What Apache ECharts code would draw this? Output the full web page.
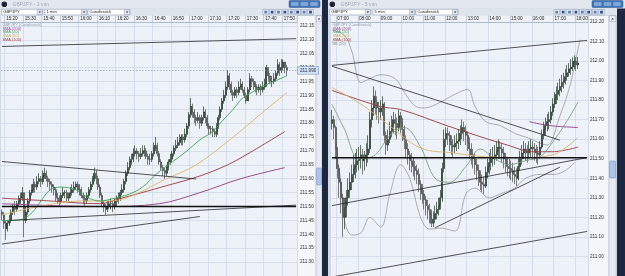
<!DOCTYPE html>
<html><head><meta charset="utf-8">
<script src="https://cdn.jsdelivr.net/npm/echarts@6/dist/echarts.min.js"></script>
<style>html,body{margin:0;padding:0;background:#d5dce7;}#c{width:625px;height:276px;}</style>
</head><body><div id="c"></div>
<script>
// ---------- tick labels ----------
const leftTickLabels = ['15:20','15:30','15:40','15:50','16:00','16:10','16:20','16:30','16:40','16:50','17:00','17:10','17:20','17:30','17:40','17:50'];
const rightTickLabels = ['07:00','08:00','09:00','10:00','11:00','12:00','13:00','14:00','15:00','16:00','17:00','18:00'];
const leftStart = '15:18', leftStep = 1, leftSlots = 160;
const rightStart = '06:45', rightStep = 5, rightSlots = 142;

// ---------- left chart (1 min) ----------
const leftFirstOpen = 211.48;
const leftClose = [
211.47,211.44,211.42,211.44,211.45,211.48,211.50,211.49,211.51,211.52,
211.53,211.55,211.45,211.48,211.52,211.55,211.56,211.58,211.57,211.59,
211.60,211.59,211.61,211.62,211.60,211.59,211.58,211.57,211.56,211.54,
211.53,211.52,211.54,211.55,211.55,211.53,211.54,211.55,211.56,211.57,
211.58,211.56,211.56,211.54,211.53,211.52,211.54,211.56,211.58,211.60,
211.62,211.60,211.57,211.54,211.51,211.50,211.49,211.50,211.51,211.51,
211.50,211.52,211.52,211.53,211.55,211.56,211.59,211.62,211.64,211.66,
211.67,211.69,211.70,211.69,211.68,211.69,211.70,211.70,211.68,211.67,
211.67,211.69,211.71,211.72,211.69,211.66,211.64,211.63,211.62,211.64,
211.66,211.67,211.69,211.71,211.72,211.73,211.74,211.75,211.74,211.76,
211.79,211.83,211.86,211.84,211.82,211.81,211.82,211.80,211.82,211.84,
211.82,211.79,211.78,211.78,211.77,211.76,211.79,211.82,211.85,211.88,
211.90,211.93,211.97,211.94,211.91,211.90,211.92,211.91,211.93,211.94,
211.92,211.90,211.88,211.92,211.96,211.95,211.94,211.93,211.92,211.93,
211.92,211.93,211.94,212.00,211.97,211.95,211.95,211.96,211.98,212.01,
211.99,212.00,212.02,212.00,211.99];
const leftHigh = [
211.49,211.48,211.45,211.45,211.47,211.49,211.51,211.52,211.52,211.54,
211.55,211.57,211.55,211.50,211.53,211.56,211.58,211.60,211.59,211.61,
211.62,211.61,211.63,211.64,211.63,211.61,211.60,211.59,211.58,211.57,
211.55,211.54,211.55,211.57,211.56,211.56,211.55,211.57,211.58,211.59,
211.59,211.59,211.58,211.57,211.55,211.54,211.55,211.57,211.59,211.61,
211.64,211.63,211.61,211.58,211.55,211.52,211.51,211.52,211.52,211.53,
211.52,211.53,211.54,211.55,211.56,211.58,211.60,211.63,211.66,211.68,
211.69,211.71,211.72,211.71,211.70,211.71,211.72,211.72,211.71,211.69,
211.69,211.70,211.73,211.75,211.73,211.70,211.67,211.65,211.64,211.65,
211.67,211.69,211.70,211.72,211.74,211.75,211.76,211.76,211.76,211.78,
211.80,211.84,211.89,211.87,211.85,211.83,211.84,211.83,211.83,211.86,
211.85,211.83,211.80,211.79,211.79,211.78,211.80,211.83,211.86,211.89,
211.92,211.95,211.99,211.98,211.95,211.92,211.93,211.93,211.95,211.96,
211.95,211.93,211.91,211.93,211.98,211.97,211.96,211.95,211.94,211.94,
211.94,211.95,211.96,212.01,212.00,211.98,211.97,211.98,211.99,212.03,
212.02,212.03,212.03,212.02,212.01];
const leftLow = [
211.45,211.42,211.38,211.41,211.43,211.44,211.47,211.47,211.48,211.50,
211.51,211.52,211.39,211.44,211.47,211.51,211.54,211.55,211.55,211.56,
211.58,211.57,211.58,211.60,211.59,211.57,211.56,211.55,211.54,211.52,
211.51,211.50,211.51,211.53,211.53,211.52,211.52,211.53,211.54,211.55,
211.56,211.55,211.54,211.53,211.51,211.50,211.51,211.53,211.55,211.57,
211.59,211.58,211.56,211.53,211.50,211.48,211.47,211.48,211.49,211.49,
211.48,211.49,211.50,211.51,211.52,211.54,211.55,211.58,211.61,211.63,
211.65,211.66,211.68,211.67,211.66,211.67,211.68,211.68,211.67,211.65,
211.65,211.66,211.68,211.70,211.68,211.65,211.63,211.61,211.60,211.61,
211.63,211.65,211.66,211.68,211.70,211.71,211.72,211.72,211.72,211.73,
211.75,211.78,211.82,211.82,211.80,211.79,211.80,211.78,211.79,211.81,
211.80,211.78,211.76,211.76,211.75,211.75,211.75,211.78,211.81,211.84,
211.87,211.89,211.92,211.92,211.90,211.88,211.89,211.89,211.90,211.92,
211.91,211.89,211.87,211.88,211.91,211.93,211.92,211.91,211.90,211.91,
211.90,211.91,211.92,211.93,211.95,211.94,211.93,211.94,211.95,211.97,
211.97,211.98,211.99,211.98,211.97];
const leftSma20 = [[0,211.45],[8,211.45],[15,211.47],[20,211.51],[26,211.56],[32,211.57],[40,211.56],[47,211.53],[53,211.52],[61,211.53],[69,211.545],[76,211.57],[84,211.62],[92,211.66],[100,211.70],[107,211.74],[114,211.77],[118,211.80],[125,211.85],[130,211.89],[135,211.91],[140,211.93],[147,211.95],[154,211.97]];
const leftSma50 = [[0,211.47],[20,211.50],[42,211.52],[58,211.52],[69,211.535],[89,211.60],[105,211.65],[125,211.75],[143,211.85],[154,211.91]];
const leftSma100 = [[0,211.53],[26,211.52],[53,211.51],[62,211.525],[89,211.575],[107,211.61],[122,211.65],[133,211.69],[153,211.77]];
const leftSma200 = [[0,211.51],[53,211.50],[85,211.51],[107,211.55],[129,211.60],[153,211.64]];
const leftTrendLines = [
  [[0,212.076],[159,212.104]],
  [[0,211.662],[105,211.599]],
  [[4,211.45],[159,211.505]],
  [[0,211.365],[107,211.464]]
];
const leftLevel = 211.50;
const leftLast = 211.99;

// ---------- right chart (5 min) ----------
const rightFirstOpen = 211.68;
const rightClose = [
211.70,211.66,211.55,211.45,211.38,211.30,211.20,211.25,211.30,211.34,
211.38,211.42,211.45,211.47,211.49,211.50,211.52,211.49,211.50,211.52,
211.55,211.70,211.76,211.82,211.79,211.76,211.74,211.76,211.78,211.62,
211.57,211.60,211.64,211.67,211.70,211.68,211.66,211.72,211.69,211.65,
211.60,211.55,211.52,211.49,211.48,211.46,211.44,211.42,211.37,211.34,
211.32,211.29,211.26,211.24,211.22,211.17,211.19,211.22,211.24,211.26,
211.30,211.45,211.60,211.63,211.62,211.59,211.57,211.56,211.58,211.59,
211.60,211.63,211.66,211.64,211.62,211.58,211.55,211.52,211.50,211.47,
211.44,211.41,211.38,211.37,211.36,211.43,211.46,211.48,211.50,211.51,
211.52,211.54,211.56,211.55,211.53,211.50,211.48,211.46,211.45,211.44,
211.42,211.41,211.40,211.46,211.50,211.53,211.55,211.54,211.53,211.55,
211.56,211.55,211.54,211.53,211.52,211.56,211.62,211.65,211.67,211.69,
211.70,211.74,211.78,211.81,211.83,211.85,211.87,211.89,211.90,211.92,
211.94,211.96,211.97,211.99,212.00,211.98,211.99];
const rightHigh = [
211.75,211.72,211.67,211.56,211.47,211.40,211.32,211.30,211.34,211.40,
211.43,211.47,211.52,211.53,211.55,211.56,211.57,211.55,211.54,211.58,
211.62,211.74,211.80,211.87,211.85,211.82,211.79,211.80,211.82,211.79,
211.64,211.65,211.69,211.72,211.74,211.73,211.71,211.75,211.74,211.71,
211.67,211.62,211.58,211.54,211.53,211.51,211.49,211.47,211.45,211.39,
211.37,211.34,211.31,211.29,211.27,211.24,211.23,211.26,211.28,211.30,
211.34,211.48,211.65,211.66,211.66,211.64,211.62,211.60,211.62,211.63,
211.65,211.67,211.70,211.69,211.67,211.64,211.61,211.58,211.55,211.53,
211.50,211.47,211.44,211.42,211.41,211.46,211.50,211.53,211.55,211.56,
211.57,211.59,211.60,211.59,211.58,211.56,211.53,211.51,211.50,211.49,
211.48,211.46,211.45,211.50,211.54,211.57,211.59,211.58,211.57,211.59,
211.60,211.59,211.58,211.57,211.56,211.59,211.65,211.69,211.71,211.73,
211.74,211.77,211.81,211.84,211.87,211.89,211.91,211.93,211.94,211.96,
211.98,211.99,212.01,212.02,212.03,212.02,212.02];
const rightLow = [
211.65,211.60,211.50,211.40,211.30,211.22,211.10,211.14,211.20,211.26,
211.30,211.34,211.38,211.40,211.43,211.44,211.45,211.42,211.44,211.46,
211.48,211.53,211.66,211.72,211.73,211.70,211.68,211.70,211.72,211.58,
211.52,211.54,211.58,211.61,211.63,211.62,211.60,211.64,211.63,211.59,
211.55,211.50,211.47,211.44,211.43,211.41,211.39,211.37,211.33,211.29,
211.27,211.24,211.21,211.19,211.17,211.15,211.15,211.17,211.19,211.21,
211.24,211.28,211.43,211.56,211.57,211.54,211.52,211.51,211.53,211.54,
211.55,211.57,211.60,211.59,211.57,211.54,211.50,211.47,211.45,211.42,
211.39,211.36,211.34,211.33,211.32,211.35,211.40,211.42,211.44,211.46,
211.47,211.49,211.50,211.50,211.48,211.45,211.43,211.41,211.40,211.39,
211.38,211.37,211.36,211.39,211.44,211.47,211.50,211.49,211.48,211.50,
211.51,211.50,211.49,211.48,211.47,211.50,211.55,211.60,211.62,211.64,
211.65,211.68,211.72,211.76,211.78,211.80,211.82,211.84,211.86,211.88,
211.90,211.92,211.93,211.95,211.96,211.95,211.96];
const rightSma20 = [[0,211.78],[7,211.65],[15,211.50],[24,211.52],[32,211.62],[40,211.66],[49,211.56],[57,211.40],[65,211.38],[74,211.46],[82,211.55],[90,211.50],[98,211.47],[107,211.49],[115,211.51],[120,211.56],[129,211.68],[136,211.79]];
const rightSma50 = [[0,211.865],[16,211.78],[30,211.683],[49,211.555],[67,211.53],[85,211.51],[104,211.506],[122,211.52],[136,211.61]];
const rightSma100 = [[0,211.85],[27,211.767],[38,211.752],[64,211.668],[80,211.619],[97,211.57],[111,211.536],[122,211.536],[136,211.56]];
const rightSma200 = [[109,211.69],[120,211.67],[136,211.66]];
const rightBBUpper = [[0,212.16],[7,212.13],[11,212.05],[16,211.89],[21,211.91],[27,211.93],[35,211.91],[40,211.84],[46,211.77],[51,211.76],[60,211.79],[68,211.83],[75,211.855],[79,211.77],[85,211.69],[93,211.67],[101,211.63],[109,211.605],[115,211.58],[119,211.57],[126,211.72],[132,211.89],[137,212.11]];
const rightBBLower = [[3,211.50],[5,211.38],[7,211.18],[11,211.11],[16,211.12],[21,211.20],[27,211.15],[32,211.32],[38,211.47],[43,211.40],[49,211.20],[54,211.14],[60,211.145],[68,211.13],[74,211.32],[79,211.35],[87,211.30],[93,211.32],[101,211.35],[107,211.40],[115,211.42],[123,211.42],[129,211.44],[134,211.48]];
const rightTrendLines = [
  [[0,211.978],[141,212.106]],
  [[0,211.974],[126,211.595]],
  [[0,211.26],[141,211.506]],
  [[57,211.147],[126,211.457]],
  [[0,210.895],[141,211.128]]
];
const rightLevel = 211.505;
const rightLast = 211.99;

// ---------- build ----------
const FF = '"Liberation Sans", Arial, sans-serif';
function pad(n){return (n<10?'0':'')+n;}
function makeTimes(start, step, count){
  const p = start.split(':').map(Number); let t = p[0]*60+p[1]; const out=[];
  for(let i=0;i<count;i++){ out.push(pad(Math.floor(t/60)%24)+':'+pad(t%60)); t+=step; }
  return out;
}
function candles(firstOpen, c, h, l){
  return c.map((v,i)=>[i===0?firstOpen:c[i-1], v, l[i], h[i]]);
}
const C = {
  grid:'#cbd6e6', bg:'#edf2f9', up:'#223826', down:'#5f5f5f',
  sma20:'#3f9f52', sma50:'#d9b46e', sma100:'#98383c', sma200:'#8d3c86', bb:'#8e8e8e', trend:'#1b1b1b'
};
function lineS(ax, data, color, width, smooth, z, opacity){
  return {type:'line', xAxisIndex:ax, yAxisIndex:ax, data:data, symbol:'none', smooth:smooth?0.35:false,
    lineStyle:{color:color, width:width, opacity:opacity==null?1:opacity}, z:z, silent:true, animation:false, clip:true};
}
function xAx(ax, cats, ticks, padL){
  const f = (i,v)=>ticks.indexOf(v)>=0;
  return {type:'category', gridIndex:ax, position:'top', data:cats, boundaryGap:true,
    axisLine:{show:true, lineStyle:{color:'#9fb0c6', width:0.8}},
    axisTick:{show:true, interval:f, length:6.5, lineStyle:{color:'#a8b6c9', width:0.6}},
    axisLabel:{show:true, interval:f, fontSize:4.6, fontFamily:FF, color:'#2b2b2b', margin:1.2, align:'left', padding:[0,0,0,padL]},
    splitLine:{show:true, interval:f, lineStyle:{color:C.grid, width:0.7}}};
}
function yAx(ax, min, max, step, margin, showMax){
  return {type:'value', gridIndex:ax, position:'right', min:min, max:max, interval:step, scale:true,
    axisLine:{show:false}, axisTick:{show:false},
    axisLabel:{fontSize:4.6, fontFamily:FF, color:'#2b2b2b', margin:margin, showMaxLabel:showMax, showMinLabel:false, formatter:v=>v.toFixed(2)},
    splitLine:{show:true, lineStyle:{color:C.grid, width:0.7}}};
}

const leftCats = makeTimes(leftStart, leftStep, leftSlots);
const rightCats = makeTimes(rightStart, rightStep, rightSlots);

function chartSeries(ax, slots, firstOpen, c, h, l, s20, s50, s100, s200, trends, level, last, showDash, bbU, bbL){
  const s = [];
  s.push({type:'candlestick', xAxisIndex:ax, yAxisIndex:ax, data:candles(firstOpen,c,h,l), barWidth:1.5, z:3,
    itemStyle:{color:C.up, color0:C.down, borderColor:C.up, borderColor0:'#474747', borderWidth:0.7},
    silent:true, animation:false,
    markLine:{symbol:'none', silent:true, animation:false,
      lineStyle:{type:[1.5,1.5], color:'#7d8ea6', width:0.6, opacity:showDash?1:0},
      label:{show:true, position:'end', distance:1, formatter:last.toFixed(3), fontSize:4.6, fontFamily:FF, color:'#1d2a3c',
        backgroundColor:'#d3e2f5', borderColor:'#7f9cc6', borderWidth:0.6, padding:[1,2,1,2]},
      data:[{yAxis:last}]}});
  if (bbU) { s.push(lineS(ax, bbU, C.bb, 0.7, true, 2)); s.push(lineS(ax, bbL, C.bb, 0.7, true, 2)); }
  s.push(lineS(ax, s200, C.sma200, 0.9, true, 4));
  s.push(lineS(ax, s100, C.sma100, 0.9, true, 4));
  s.push(lineS(ax, s50, C.sma50, 0.9, true, 4));
  s.push(lineS(ax, s20, bbU ? '#7f9f82' : C.sma20, 0.9, true, 4));
  trends.forEach(t=>s.push(lineS(ax, t, C.trend, 0.75, false, 5)));
  s.push(lineS(ax, [[0,level],[slots-1,level]], '#111', 1.4, false, 5));
  return s;
}

// ---------- chrome ----------
const g = [];
function R(x,y,w,h,fill,stroke,z,r){ g.push({type:'rect', shape:{x:x,y:y,width:w,height:h,r:r||0}, style:{fill:fill, stroke:stroke||null, lineWidth:0.5}, z:z==null?-10:z, silent:true}); }
function T(x,y,text,size,fill,z,align){ g.push({type:'text', x:x, y:y, style:{text:text, font:size+'px '+FF, fill:fill, align:align||'left', verticalAlign:'middle'}, z:z==null?-5:z, silent:true}); }
function tri(cx,cy,fill,up){ g.push({type:'polygon', shape:{points: up?[[cx-1.4,cy+0.8],[cx+1.4,cy+0.8],[cx,cy-0.8]]:[[cx-1.4,cy-0.7],[cx+1.4,cy-0.7],[cx,cy+0.8]]}, style:{fill:fill}, z:-4, silent:true}); }
function windowChrome(x0, w, title, tf, plotL, plotR, colW, sbW, thumbY){
  R(x0,0,w,276,'#d3dae5');
  R(x0,0,w,8.5,'#e3e8ef');
  g.push({type:'circle', shape:{cx:x0+4.3, cy:4.2, r:2.8}, style:{fill:'#1d2234'}, z:-5, silent:true});
  T(x0+12.5,4.4,title,5,'#a3abb8');
  const bx = x0+w-33;
  R(bx,0.5,31,7,'#3f72b3','#2b5592',-6,1.2);
  [0,1,2].forEach(k=>R(bx+2+k*9.6,2,7.6,4,'#7fa4d6',null,-5,0.6));
  R(x0,8.5,w,7,'#dfe5ed');
  const boxes = [[x0+1.7,41,'GBPJPY'],[x0+45,42,tf],[x0+88,42,'Candlestick']];
  boxes.forEach(b=>{ R(b[0],9.3,b[1],5.6,'#ffffff','#8593a8',-6); T(b[0]+1.5,12.2,b[2],4.2,'#1e1e1e');
    R(b[0]+b[1]-5.5,9.6,5.2,5.0,'#e4e9f1','#8a98ad',-5); tri(b[0]+b[1]-2.9,12.1,'#2c3a55',false); });
  const ix = plotR - 34;
  for (let k=0;k<8;k++){ R(ix+k*6.4,9.4,5.4,5.4,k<4?'#f3f6fb':'#e6ecf4','#7d8ea8',-6);
    R(ix+k*6.4+1.3,10.7,2.8,2.8,k%2?'#2f4f86':'#5a7fb8',null,-5); }
  R(plotL,15.5,plotR-plotL,6.5,'#eef2f7');
  R(plotR,15.5,colW,261,'#f5f7fa','#b3bfd0',-9);
  const sx = plotR+colW;
  R(sx,15.5,sbW,261,'#e6ebf2','#a7b3c4',-9);
  R(sx+0.3,15.8,sbW-0.6,5.6,'#f7f9fc','#8796ad',-8); tri(sx+sbW/2,18.6,'#2c3a55',true);
  R(sx+0.5,thumbY,sbW-1,17,'#aac5e9','#6f8fc0',-8,1);
}
windowChrome(0, 322, 'GBPJPY - 1 min', '1 min', 1, 297, 19, 6, 168);
R(322,0,6,276,'#1d2840',null,-9);
windowChrome(328, 297, 'GBPJPY - 5 min', '5 min', 331, 588, 21, 7, 161);
R(617,8.5,8,268,'#1d2840',null,-8);

function legend(x, extra){
  const items = [['GBPJPY (Candlestick)','#8f9aab'],['SMA (200)','#a2449a'],['SMA (20)','#3f9f52'],['SMA (50)','#c9a862'],['SMA (100)','#a2383c']];
  if (extra) items.push(['BB (20)','#8f8f8f']);
  items.forEach((it,k)=>T(x, 24.6+k*3.9, it[0], 3.9, it[1], 20));
}
legend(2.5, false);
legend(332.5, true);

const option = {
  animation:false,
  backgroundColor:'#d3dae5',
  textStyle:{fontFamily:FF},
  grid:[
    {left:1, top:22, width:296, height:258.6, show:true, backgroundColor:C.bg, borderWidth:0},
    {left:331, top:22, width:257, height:264.3, show:true, backgroundColor:C.bg, borderWidth:0}
  ],
  xAxis:[ xAx(0, leftCats, leftTickLabels, 0.5), xAx(1, rightCats, rightTickLabels, 0) ],
  yAxis:[ yAx(0, 211.25, 212.164, 0.05, 3, false), yAx(1, 210.9, 212.2, 0.1, 2, true) ],
  series:[].concat(
    chartSeries(0, leftSlots, leftFirstOpen, leftClose, leftHigh, leftLow, leftSma20, leftSma50, leftSma100, leftSma200, leftTrendLines, leftLevel, leftLast, true),
    chartSeries(1, rightSlots, rightFirstOpen, rightClose, rightHigh, rightLow, rightSma20, rightSma50, rightSma100, rightSma200, rightTrendLines, rightLevel, rightLast, false, rightBBUpper, rightBBLower)
  ),
  graphic:{elements:g}
};
const chart = echarts.init(document.getElementById('c'), null, {renderer:'canvas'});
chart.setOption(option);
</script>
</body></html>
